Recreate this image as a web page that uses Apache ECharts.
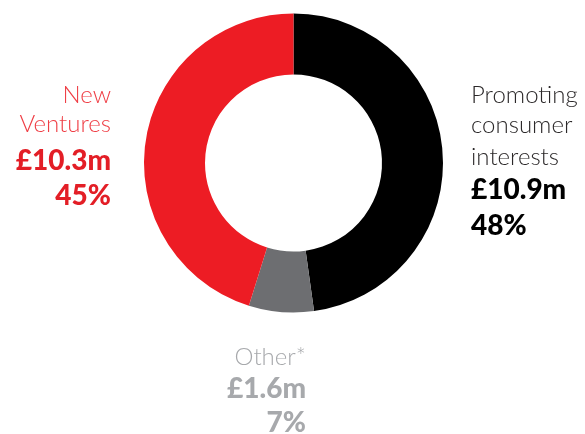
<!DOCTYPE html>
<html><head><meta charset="utf-8">
<script src="https://cdn.jsdelivr.net/npm/echarts@6/dist/echarts.min.js"></script>
<style>html,body{margin:0;padding:0;background:#fff}#c{width:585px;height:434px}</style>
</head><body><div id="c"></div>
<script>
const names = ['Promoting\nconsumer\ninterests', 'Other*', 'New\nVentures'];
const values = [10.9, 1.6, 10.3];
const percents = ['48%', '7%', '45%'];
const sliceColors = ['#000000', '#6d6e71', '#ed1c24'];
const nameColors = ['#2b2829', '#a7a9ac', '#ef3e45'];
const valueColors = ['#000000', '#a7a9ac', '#e31e26'];

// layout only: anchor x, alignment, baselines for each label line
const layouts = [
  {x: 471, align: 'left', baselines: [103, 133, 165, 199, 235]},
  {x: 306, align: 'right', baselines: [365, 398, 432]},
  {x: 111, align: 'right', baselines: [103, 132, 170, 205]}
];
const NAME_FS = 24, VALUE_FS = 28;

const chart = echarts.init(document.getElementById('c'));
const g = [];
layouts.forEach((L, i) => {
  const lines = names[i].split('\n').map(t => ({t, bold: false}));
  lines.push({t: '£' + values[i] + 'm', bold: true});
  lines.push({t: percents[i], bold: true});
  lines.forEach((ln, k) => {
    const fs = ln.bold ? VALUE_FS : NAME_FS;
    g.push({
      type: 'text', x: L.x, y: L.baselines[k] - 0.32 * fs, silent: true,
      style: {
        text: ln.t, align: L.align, verticalAlign: 'middle',
        fontFamily: 'Lato', fontWeight: ln.bold ? 900 : 300, fontSize: fs,
        fill: ln.bold ? valueColors[i] : nameColors[i]
      }
    });
  });
});
chart.setOption({
  animation: false,
  series: [{
    type: 'pie', center: [293.5, 163], radius: [88.5, 149.5],
    startAngle: 90, clockwise: true, silent: true,
    label: {show: false}, labelLine: {show: false},
    itemStyle: {borderWidth: 0},
    data: values.map((v, i) => ({value: v, name: names[i], itemStyle: {color: sliceColors[i]}}))
  }],
  graphic: g
});
</script></body></html>
